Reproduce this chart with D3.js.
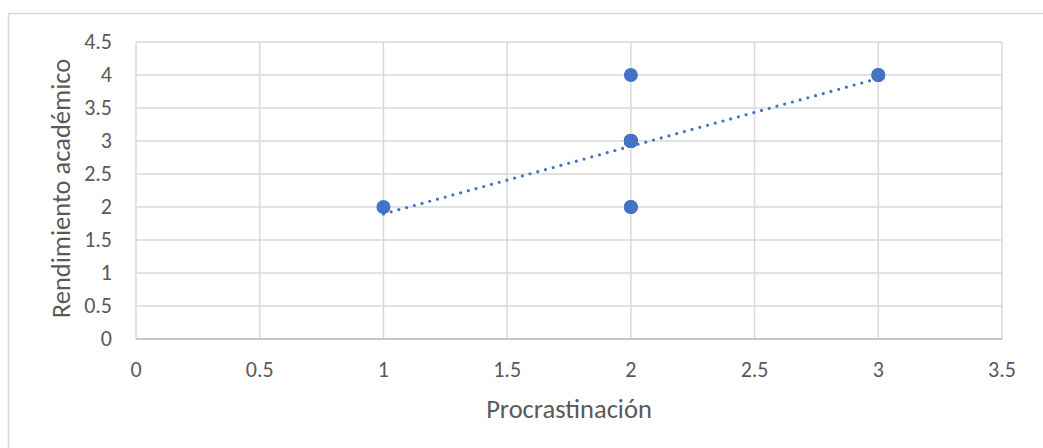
<!doctype html>
<html>
  <head>
    <meta charset="UTF-8">
    <title>Procrastinación vs Rendimiento</title>
    <style>
      body { margin: 0; background: #fff; }
      text { font-family: Carlito, Lato, "Open Sans", sans-serif; fill: #595959; }
      .grid line { stroke: #d9d9d9; stroke-width: 1.5px; }
    </style>
  </head>
  <body>
    <svg id="chart" width="1043" height="448"></svg>

    <script src="https://d3js.org/d3.v7.min.js"></script>
    <script>
      // Observations (duplicated points sit on top of each other)
      const procrastinacion = [1, 2, 2, 2, 2, 2, 2, 2, 2, 2, 2, 3, 3];
      const rendimiento     = [2, 2, 2, 3, 3, 3, 3, 3, 3, 3, 4, 4, 4];

      const xTicks = [0, 0.5, 1, 1.5, 2, 2.5, 3, 3.5];
      const yTicks = [0, 0.5, 1, 1.5, 2, 2.5, 3, 3.5, 4, 4.5];

      const svg = d3.select("#chart");

      // chart frame (clipped on the right and bottom like the reference)
      svg.append("rect")
        .attr("x", 8.5).attr("y", 13.5)
        .attr("width", 1100).attr("height", 500)
        .attr("fill", "none").attr("stroke", "#d9d9d9").attr("stroke-width", 1.5);

      const x = d3.scaleLinear().domain([0, 3.5]).range([136, 1002]);
      const y = d3.scaleLinear().domain([0, 4.5]).range([339, 42]);

      // gridlines
      const grid = svg.append("g").attr("class", "grid");
      grid.selectAll(".v").data(xTicks).enter().append("line")
        .attr("x1", d => x(d)).attr("x2", d => x(d))
        .attr("y1", y(0)).attr("y2", y(4.5));
      grid.selectAll(".h").data(yTicks).enter().append("line")
        .attr("x1", x(0)).attr("x2", x(3.5))
        .attr("y1", d => y(d)).attr("y2", d => y(d));

      // bottom axis line
      svg.append("line")
        .attr("x1", x(0)).attr("x2", x(3.5))
        .attr("y1", y(0)).attr("y2", y(0))
        .attr("stroke", "#bfbfbf").attr("stroke-width", 1.5);

      // tick labels
      svg.selectAll(".xt").data(xTicks).enter().append("text")
        .attr("x", d => x(d)).attr("y", 377)
        .attr("text-anchor", "middle").attr("font-size", 22)
        .text(d => d);
      svg.selectAll(".yt").data(yTicks).enter().append("text")
        .attr("x", 112).attr("y", d => y(d) + 7)
        .attr("text-anchor", "end").attr("font-size", 22)
        .text(d => d);

      // axis titles
      svg.append("text")
        .attr("x", (x(0) + x(3.5)) / 2).attr("y", 418)
        .attr("text-anchor", "middle").attr("font-size", 26.5)
        .text("Procrastinación");
      svg.append("text")
        .attr("transform", `translate(70,${(y(0) + y(4.5)) / 2 - 2}) rotate(-90)`)
        .attr("text-anchor", "middle").attr("font-size", 26.5)
        .text("Rendimiento académico");

      // linear trendline (least squares)
      const n = procrastinacion.length;
      const mx = d3.mean(procrastinacion), my = d3.mean(rendimiento);
      let sxy = 0, sxx = 0;
      for (let i = 0; i < n; i++) {
        sxy += (procrastinacion[i] - mx) * (rendimiento[i] - my);
        sxx += (procrastinacion[i] - mx) ** 2;
      }
      const slope = sxy / sxx, intercept = my - slope * mx;
      const [x0, x1] = d3.extent(procrastinacion);

      svg.append("line")
        .attr("x1", x(x0)).attr("y1", y(intercept + slope * x0))
        .attr("x2", x(x1)).attr("y2", y(intercept + slope * x1))
        .attr("stroke", "#4472c4").attr("stroke-width", 3.2)
        .attr("stroke-linecap", "round").attr("stroke-dasharray", "0 8");

      // points
      svg.selectAll("circle").data(procrastinacion).enter().append("circle")
        .attr("cx", d => x(d))
        .attr("cy", (d, i) => y(rendimiento[i]))
        .attr("r", 7)
        .attr("fill", "#4472c4");
    </script>
  </body>
</html>
